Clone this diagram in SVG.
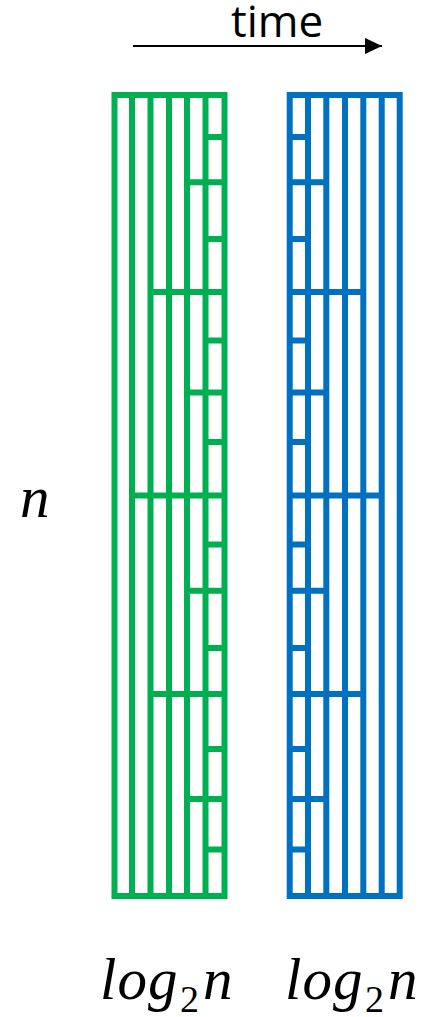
<svg xmlns="http://www.w3.org/2000/svg" width="422" height="1017" viewBox="0 0 422 1017">
<style>
.g{stroke:#00B050;stroke-width:6;fill:none}
.b{stroke:#0070C0;stroke-width:6;fill:none}
.lbl{font-family:"Open Sans","Liberation Sans",sans-serif;font-size:44px;fill:#000}
.m{font-family:"Liberation Serif","DejaVu Serif",serif;font-style:italic;font-size:59px;fill:#000}
.sub{font-family:"Liberation Serif","DejaVu Serif",serif;font-style:normal;font-size:38px}
</style>
<defs>
<marker id="ah" markerWidth="17" markerHeight="16" refX="17" refY="8" orient="auto" markerUnits="userSpaceOnUse">
<path d="M0,0 L17,8 L0,16 Z" fill="#000"/>
</marker>
</defs>
<g id="connectors">
<line x1="133" y1="46" x2="382" y2="46" stroke="#000" stroke-width="2" marker-end="url(#ah)"/>
</g>
<g id="green-array">
<rect class="g" x="114.5" y="95" width="110" height="801"/>
<path class="g" d="M132,95V896M150.5,95V896M169,95V896M187,95V896M205.5,95V896"/>
<path class="g" d="M205.5,137H224.5M187,182.3H224.5M205.5,239H224.5M150.5,292H224.5M205.5,340.5H224.5M187,392.5H224.5M205.5,442H224.5M132,495.5H224.5M205.5,544.5H224.5M187,590.8H224.5M205.5,648H224.5M150.5,694H224.5M205.5,749H224.5M187,799H224.5M205.5,849.5H224.5"/>
</g>
<g id="blue-array">
<rect class="b" x="289.7" y="95" width="110" height="801"/>
<path class="b" d="M308,95V896M326.3,95V896M345,95V896M363.3,95V896M381.7,95V896"/>
<path class="b" d="M289.7,137H308M289.7,182.3H326.3M289.7,239H308M289.7,292H363.3M289.7,340.5H308M289.7,392.5H326.3M289.7,442H308M289.7,495.5H381.7M289.7,544.5H308M289.7,590.8H326.3M289.7,648H308M289.7,694H363.3M289.7,749H308M289.7,799H326.3M289.7,849.5H308"/>
</g>
<g id="labels">
<text class="lbl" x="231" y="37">time</text>
<text class="m" x="20" y="517">n</text>
<text class="m" x="100" y="999" letter-spacing="1">log<tspan class="sub" x="180" y="1012">2</tspan><tspan x="203" y="999">n</tspan></text>
<text class="m" x="285" y="999" letter-spacing="1">log<tspan class="sub" x="365" y="1012">2</tspan><tspan x="388" y="999">n</tspan></text>
</g>
</svg>
